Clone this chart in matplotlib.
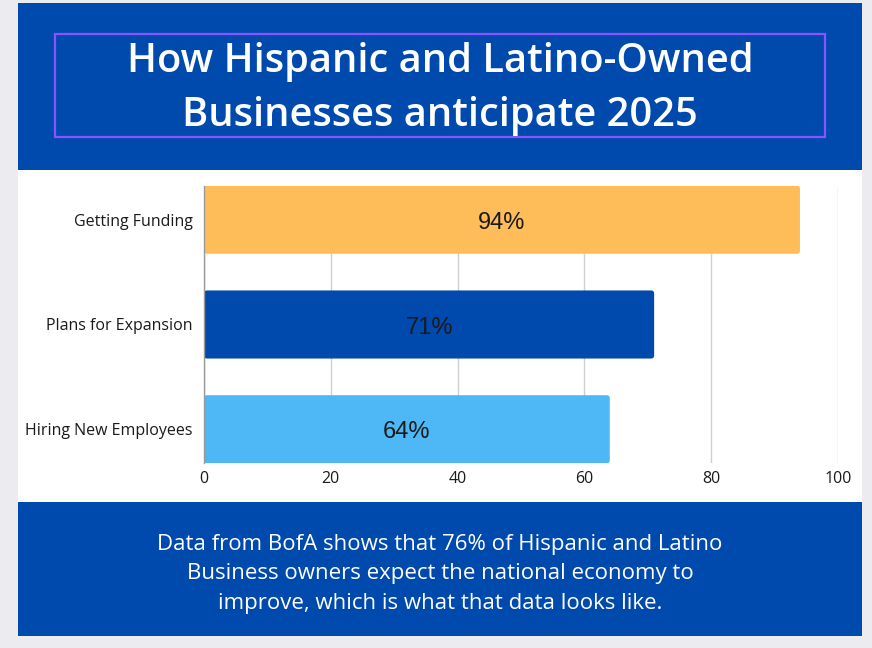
import matplotlib
matplotlib.use("Agg")
import matplotlib.pyplot as plt
from matplotlib.patches import Rectangle, FancyBboxPatch

# data
categories = ["Getting Funding", "Plans for Expansion", "Hiring New Employees"]
values = [94, 71, 64]
bar_colors = ["#ffbd59", "#004aad", "#4db8f5"]
xticks = [0, 20, 40, 60, 80, 100]

title = "How Hispanic and Latino-Owned\nBusinesses anticipate 2025"
note = ("Data from BofA shows that 76% of Hispanic and Latino\n"
        "Business owners expect the national economy to\n"
        "improve, which is what that data looks like.")

W, H = 872, 648
BLUE = "#004aad"

plt.rcParams["font.family"] = ["Open Sans", "DejaVu Sans"]

fig = plt.figure(figsize=(W / 100, H / 100), dpi=100)
fig.patch.set_facecolor("#ececf0")


def box(x0, y0, x1, y1, **kw):
    # pixel coords (top-left origin) -> figure fraction
    r = Rectangle((x0 / W, 1 - y1 / H), (x1 - x0) / W, (y1 - y0) / H,
                  transform=fig.transFigure, **kw)
    fig.add_artist(r)
    return r


# panels
box(18, 3, 862, 170, facecolor=BLUE, edgecolor="none", zorder=0)
box(18, 170, 862, 502, facecolor="white", edgecolor="none", zorder=0)
box(18, 502, 862, 636, facecolor=BLUE, edgecolor="none", zorder=0)
box(55, 34, 825, 137, facecolor="none", edgecolor="#8c52ff", linewidth=1.6, zorder=1)

fig.text(440 / W, 1 - 89 / H, title, ha="center", va="center", color="white",
         fontsize=28.7, fontweight="semibold", linespacing=1.46)
fig.text(440 / W, 1 - 574 / H, note, ha="center", va="center", color="white",
         fontsize=16, linespacing=1.55)

# chart
ax = fig.add_axes([204 / W, 1 - 463 / H, 634 / W, 277 / H])
ax.set_facecolor("white")
ypos = list(range(len(categories)))
bars = ax.barh(ypos, values, height=0.65, color=bar_colors, zorder=2)

# rounded corners: redraw each bar from its own geometry
aspect = (634 / 100) / (277 / 2.644)
for b in bars:
    b.set_visible(False)
    rb = FancyBboxPatch((b.get_x(), b.get_y()), b.get_width(), b.get_height(),
                        boxstyle="round,pad=0,rounding_size=0.5",
                        mutation_aspect=aspect, facecolor=b.get_facecolor(),
                        edgecolor="none", zorder=2)
    ax.add_patch(rb)

for b, v in zip(bars, values):
    ax.text(v / 2, b.get_y() + b.get_height() / 2 + 0.03, f"{v}%", ha="center", va="center",
            fontsize=17, color="#1a1a1a", family="Liberation Sans", zorder=3)

ax.set_xlim(0, 100)
ax.set_ylim(2.322, -0.322)
ax.set_xticks(xticks)
ax.set_yticks(ypos)
ax.set_yticklabels(categories)
ax.tick_params(axis="both", length=0, labelsize=11.5, colors="#1a1a1a")
ax.tick_params(axis="x", pad=6)
ax.tick_params(axis="y", pad=8)
ax.grid(axis="x", color="#d0d0d0", linewidth=1, zorder=0)
for s in ["top", "right", "bottom"]:
    ax.spines[s].set_visible(False)
ax.spines["left"].set_color("#999999")
ax.spines["left"].set_linewidth(1)

fig.savefig("out.png", dpi=100, facecolor=fig.get_facecolor())
